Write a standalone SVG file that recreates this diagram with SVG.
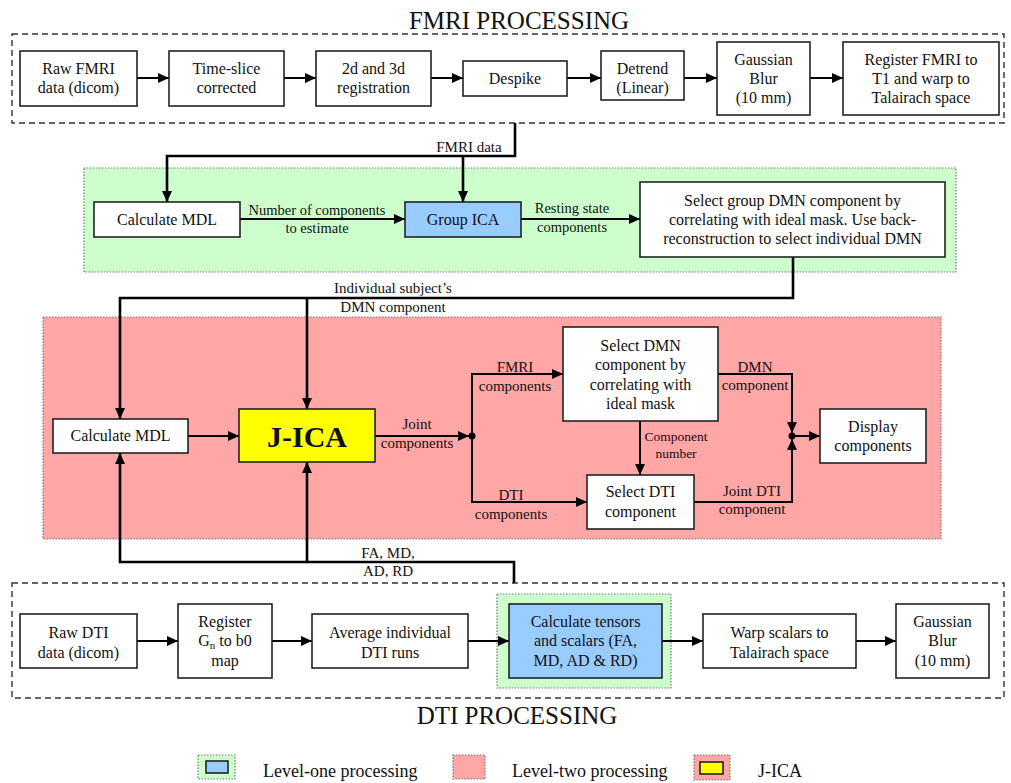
<svg xmlns="http://www.w3.org/2000/svg" width="1011" height="783" viewBox="0 0 1011 783">
<style>
text{font-family:"Liberation Serif","Times New Roman",serif;fill:#111;text-anchor:middle}
.n{font-size:16px}
.l{font-size:15px}
.s{font-size:14.5px}
.t{font-size:25px}
.lg{font-size:18px;text-anchor:start}
.box{fill:#fff;stroke:#222;stroke-width:1.6}
.blue{fill:#99ccff;stroke:#222;stroke-width:1.6}
.yel{fill:#ffff00;stroke:#222;stroke-width:1.6}
.dash{fill:none;stroke:#333;stroke-width:1.4;stroke-dasharray:6 4}
.grn{fill:#ccffcc;stroke:#777;stroke-width:1.2;stroke-dasharray:1.5 1.5}
.pnk{fill:#ffa6a6;stroke:#777;stroke-width:1.2;stroke-dasharray:1.5 1.5}
.c{fill:none;stroke:#000;stroke-width:2}
.ct{fill:none;stroke:#000;stroke-width:2.6}
</style>
<defs>
<marker id="a" markerUnits="userSpaceOnUse" markerWidth="12" markerHeight="10" refX="11" refY="5" orient="auto">
<path d="M0,0 L11,5 L0,10 z" fill="#000"/>
</marker>
</defs>

<!-- regions -->
<g id="regions">
<rect class="dash" x="12" y="34" width="992" height="89"/>
<rect class="grn" x="84" y="168" width="872" height="104"/>
<rect class="pnk" x="43" y="317" width="898" height="222"/>
<rect class="dash" x="12" y="583" width="992" height="115"/>
<rect class="grn" x="497" y="594" width="174" height="94"/>
<text class="t" x="519" y="29">FMRI PROCESSING</text>
<text class="t" x="517" y="724">DTI PROCESSING</text>
</g>

<!-- connectors -->
<g id="connectors">
<path class="c" d="M137,78 H169" marker-end="url(#a)"/>
<path class="c" d="M284,78 H316" marker-end="url(#a)"/>
<path class="c" d="M431,78 H463" marker-end="url(#a)"/>
<path class="c" d="M567,78 H601" marker-end="url(#a)"/>
<path class="c" d="M684,78 H717" marker-end="url(#a)"/>
<path class="c" d="M810,78 H843" marker-end="url(#a)"/>

<path class="ct" d="M515,123 V156 H167 V202" marker-end="url(#a)"/>
<path class="ct" d="M463,156 V202" marker-end="url(#a)"/>
<path class="c" d="M240,219 H405" marker-end="url(#a)"/>
<path class="c" d="M521,219 H640" marker-end="url(#a)"/>
<path class="ct" d="M793,257 V298 H120 V419" marker-end="url(#a)"/>
<path class="ct" d="M307,298 V409" marker-end="url(#a)"/>

<path class="c" d="M188,436 H239" marker-end="url(#a)"/>
<path class="c" d="M375,436 H469" marker-end="url(#a)"/>
<path class="c" d="M472,436 V374 H563" marker-end="url(#a)"/>
<path class="c" d="M472,436 V502 H587" marker-end="url(#a)"/>
<path class="c" d="M640,421 V475" marker-end="url(#a)"/>
<path class="c" d="M718,374 H792 V433" marker-end="url(#a)"/>
<path class="c" d="M694,502 H792 V439" marker-end="url(#a)"/>
<path class="c" d="M792,436 H820" marker-end="url(#a)"/>
<circle cx="472" cy="436" r="3.5" fill="#000"/>
<circle cx="792" cy="436" r="3.5" fill="#000"/>

<path class="ct" d="M514,583 V562 H120 V453" marker-end="url(#a)"/>
<path class="ct" d="M307,562 V462" marker-end="url(#a)"/>

<path class="c" d="M137,641 H178" marker-end="url(#a)"/>
<path class="c" d="M272,641 H312" marker-end="url(#a)"/>
<path class="c" d="M468,641 H509" marker-end="url(#a)"/>
<path class="c" d="M662,641 H703" marker-end="url(#a)"/>
<path class="c" d="M856,641 H896" marker-end="url(#a)"/>

<text class="l" x="469" y="152">FMRI data</text>
<text class="s" x="317" y="215">Number of components</text>
<text class="s" x="317" y="233">to estimate</text>
<text class="s" x="572" y="213">Resting state</text>
<text class="s" x="572" y="232">components</text>
<text class="l" x="393" y="293">Individual subject’s</text>
<text class="l" x="393" y="312">DMN component</text>
<text class="l" x="417" y="429">Joint</text>
<text class="l" x="417" y="448">components</text>
<text class="l" x="515" y="372">FMRI</text>
<text class="l" x="515" y="391">components</text>
<text class="l" x="511" y="500">DTI</text>
<text class="l" x="511" y="519">components</text>
<text x="676" y="441" style="font-size:13.5px">Component</text>
<text x="676" y="458" style="font-size:13.5px">number</text>
<text class="l" x="755" y="372">DMN</text>
<text class="l" x="755" y="390">component</text>
<text class="l" x="752" y="496">Joint DTI</text>
<text class="l" x="752" y="514">component</text>
<text class="l" x="388" y="558">FA, MD,</text>
<text class="l" x="388" y="576">AD, RD</text>
</g>

<!-- FMRI row -->
<g id="raw-fmri"><rect class="box" x="20" y="51" width="117" height="55"/><text class="n" x="78.5" y="74">Raw FMRI</text><text class="n" x="78.5" y="93">data (dicom)</text></g>
<g id="time-slice"><rect class="box" x="169" y="51" width="115" height="55"/><text class="n" x="226.5" y="74">Time-slice</text><text class="n" x="226.5" y="93">corrected</text></g>
<g id="registration"><rect class="box" x="316" y="51" width="115" height="55"/><text class="n" x="373.5" y="74">2d and 3d</text><text class="n" x="373.5" y="93">registration</text></g>
<g id="despike"><rect class="box" x="463" y="61" width="104" height="35"/><text class="n" x="515" y="84">Despike</text></g>
<g id="detrend"><rect class="box" x="601" y="51" width="83" height="49"/><text class="n" x="642.5" y="74">Detrend</text><text class="n" x="642.5" y="93">(Linear)</text></g>
<g id="blur-fmri"><rect class="box" x="717" y="42" width="93" height="73"/><text class="n" x="763.5" y="65">Gaussian</text><text class="n" x="763.5" y="84">Blur</text><text class="n" x="763.5" y="103">(10 mm)</text></g>
<g id="register-fmri"><rect class="box" x="843" y="42" width="156" height="73"/><text class="n" x="921" y="65">Register FMRI to</text><text class="n" x="921" y="84">T1 and warp to</text><text class="n" x="921" y="103">Talairach space</text></g>

<!-- level one -->
<g id="mdl-1"><rect class="box" x="94" y="202" width="146" height="35"/><text class="n" x="167" y="225">Calculate MDL</text></g>
<g id="group-ica"><rect class="blue" x="405" y="202" width="116" height="35"/><text class="n" x="463" y="225">Group ICA</text></g>
<g id="select-group"><rect class="box" x="640" y="182" width="305" height="75"/><text class="n" x="792.5" y="206">Select group DMN component by</text><text class="n" x="792.5" y="225">correlating with ideal mask. Use back-</text><text class="n" x="792.5" y="244">reconstruction to select individual DMN</text></g>

<!-- level two -->
<g id="mdl-2"><rect class="box" x="53" y="419" width="135" height="34"/><text class="n" x="120.5" y="441">Calculate MDL</text></g>
<g id="jica"><rect class="yel" x="239" y="409" width="136" height="53"/><text x="307" y="447" style="font-size:30px;font-weight:bold">J-ICA</text></g>
<g id="select-dmn"><rect class="box" x="563" y="327" width="155" height="94"/><text class="n" x="640.5" y="351">Select DMN</text><text class="n" x="640.5" y="370">component by</text><text class="n" x="640.5" y="390">correlating with</text><text class="n" x="640.5" y="409">ideal mask</text></g>
<g id="select-dti"><rect class="box" x="587" y="475" width="107" height="54"/><text class="n" x="640.5" y="497">Select DTI</text><text class="n" x="640.5" y="517">component</text></g>
<g id="display"><rect class="box" x="820" y="409" width="106" height="54"/><text class="n" x="873" y="432">Display</text><text class="n" x="873" y="451">components</text></g>

<!-- DTI row -->
<g id="raw-dti"><rect class="box" x="20" y="614" width="117" height="54"/><text class="n" x="78.5" y="638">Raw DTI</text><text class="n" x="78.5" y="658">data (dicom)</text></g>
<g id="register-gn"><rect class="box" x="178" y="604" width="94" height="74"/><text class="n" x="225" y="627">Register</text><text class="n" x="225" y="646">G<tspan style="font-size:11px" dy="3">n</tspan><tspan dy="-3"> to b0</tspan></text><text class="n" x="225" y="666">map</text></g>
<g id="average"><rect class="box" x="312" y="614" width="156" height="54"/><text class="n" x="390" y="638">Average individual</text><text class="n" x="390" y="658">DTI runs</text></g>
<g id="tensors"><rect class="blue" x="509" y="604" width="153" height="74"/><text class="n" x="585.5" y="627">Calculate tensors</text><text class="n" x="585.5" y="646">and scalars (FA,</text><text class="n" x="585.5" y="666">MD, AD &amp; RD)</text></g>
<g id="warp"><rect class="box" x="703" y="614" width="153" height="54"/><text class="n" x="779.5" y="638">Warp scalars to</text><text class="n" x="779.5" y="658">Talairach space</text></g>
<g id="blur-dti"><rect class="box" x="896" y="604" width="93" height="74"/><text class="n" x="942.5" y="627">Gaussian</text><text class="n" x="942.5" y="646">Blur</text><text class="n" x="942.5" y="666">(10 mm)</text></g>

<!-- legend -->
<g id="legend">
<rect class="grn" x="198" y="755" width="37" height="24"/>
<rect class="blue" x="206" y="761" width="22" height="12"/>
<text class="lg" x="263" y="777">Level-one processing</text>
<rect class="pnk" x="453" y="755" width="32" height="24"/>
<text class="lg" x="512" y="777">Level-two processing</text>
<rect class="pnk" x="694" y="755" width="36" height="25"/>
<rect class="yel" x="700" y="762" width="23" height="12"/>
<text class="lg" x="758" y="777">J-ICA</text>
</g>
</svg>
